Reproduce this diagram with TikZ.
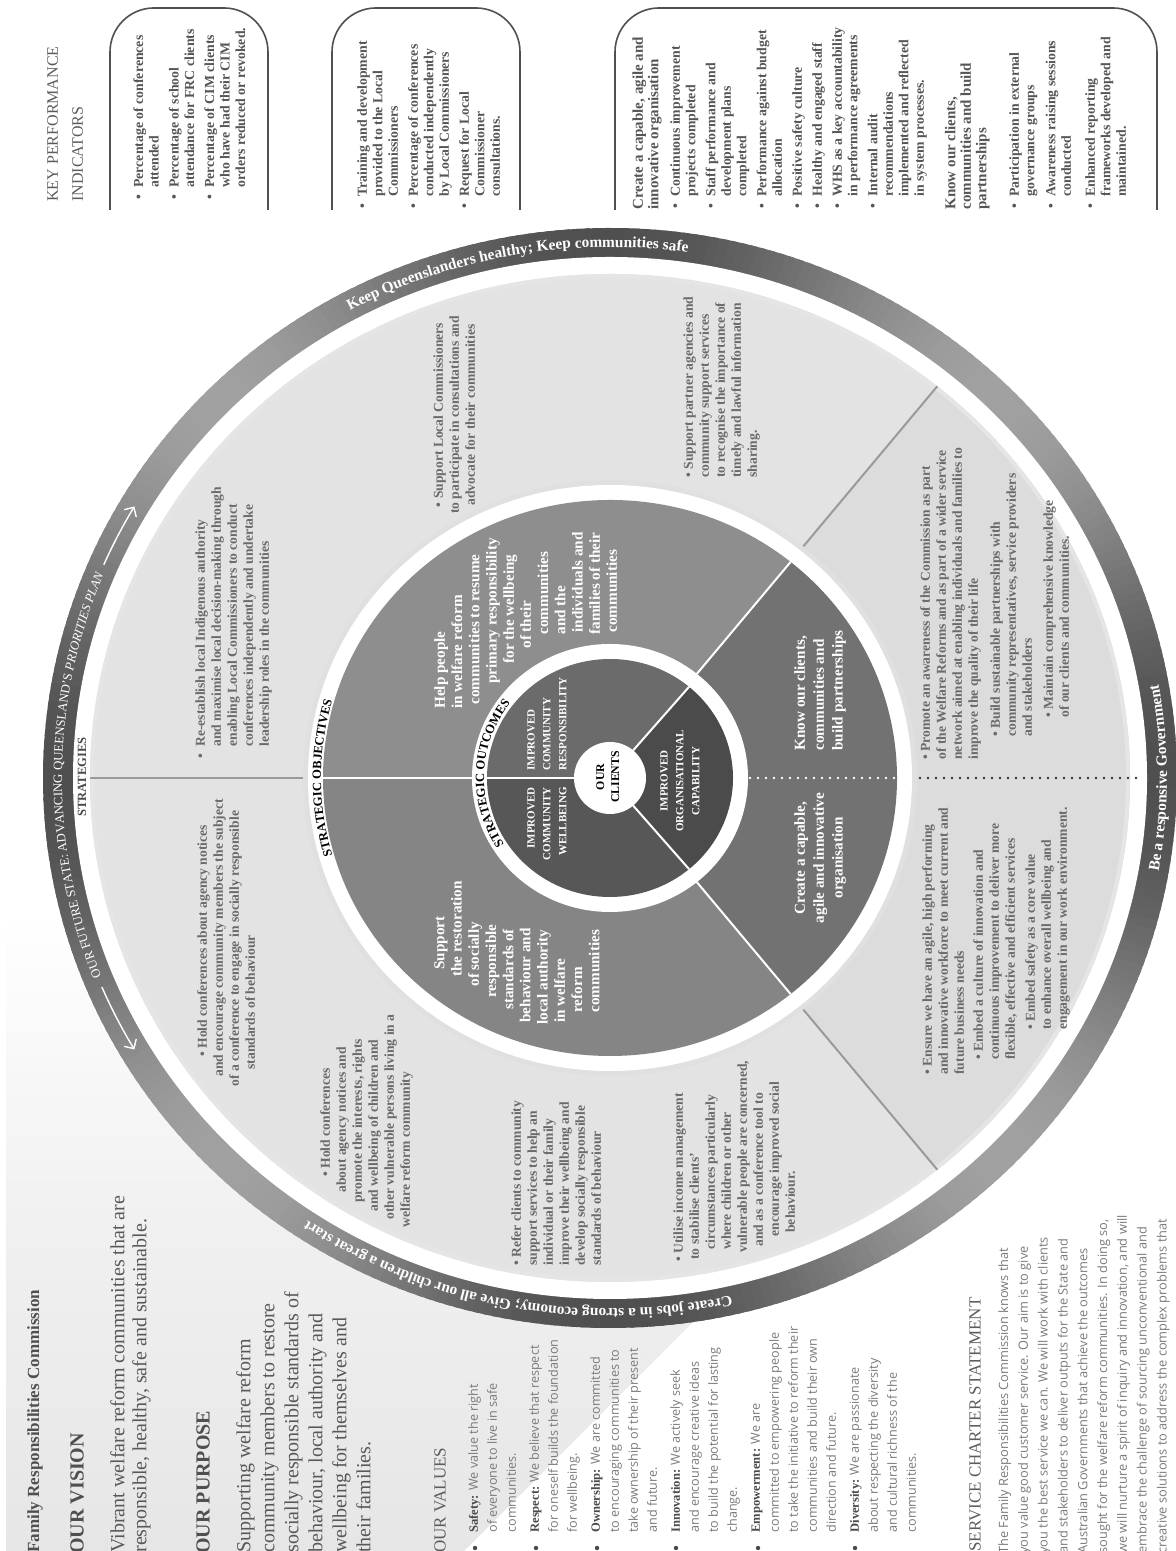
\documentclass[tikz,border=0pt]{standalone}
\usepackage{fontspec}
\setmainfont{Liberation Serif}
\newfontfamily\valfont{Open Sans}
\usetikzlibrary{positioning,decorations.text,arrows.meta}

\definecolor{diskgray}{HTML}{E3E3E3}
\definecolor{diskgrayR}{HTML}{DCDCDC}
\definecolor{objtop}{HTML}{8E8E8E}
\definecolor{objleft}{HTML}{858585}
\definecolor{objright}{HTML}{727272}
\definecolor{outtop}{HTML}{6B6B6B}
\definecolor{outleft}{HTML}{575757}
\definecolor{outright}{HTML}{4B4B4B}
\definecolor{divgray}{HTML}{9A9A9A}
\definecolor{bggray}{HTML}{E6E6E6}
\definecolor{headgray}{HTML}{4F4F4F}
\definecolor{bodygray}{HTML}{585858}
\definecolor{thingray}{HTML}{5C5C5C}
\definecolor{valgray}{HTML}{7A7A7A}
\definecolor{labgray}{HTML}{4A4A4A}
\definecolor{kpigray}{HTML}{555555}
\definecolor{stratgray}{HTML}{6A6A6A}
\definecolor{boxgray}{HTML}{505050}

\newcommand\hb{\llap{\textbullet\hspace{3.5pt}}}
\newcommand\off[1]{\hspace*{#1pt}}
\newcommand\lab[1]{{\rmfamily\bfseries\color{labgray}#1}}
\newcommand\kh[1]{\hspace*{-6.5pt}{\fontsize{7.5}{7.75}\selectfont #1}}
\newcommand\ringfont{\bfseries\fontsize{7.7}{9}\selectfont}
\newcommand\thinring{\fontsize{6.4}{8}\selectfont}
\newcommand\ringlbl{\bfseries\fontsize{6.3}{8}\selectfont}

\begin{document}
\begin{tikzpicture}[x=0.5pt, y=0.5pt,
  rtext/.style={rotate=90, inner sep=0pt, align=left},
  famhead/.style={rtext, font=\bfseries\fontsize{8.5}{9}\selectfont, text=headgray},
  bighead/.style={rtext, font=\bfseries\fontsize{10}{12}\selectfont, text=headgray},
  bigtext/.style={rtext, font=\fontsize{10}{11}\selectfont, text=bodygray},
  thinhead/.style={rtext, font=\fontsize{8.5}{12.5}\selectfont, text=thingray},
  valtext/.style={rtext, font=\valfont\fontsize{6.3}{9.5}\selectfont, text=valgray},
  kpitext/.style={rtext, font=\bfseries\fontsize{6.9}{7.75}\selectfont, text=kpigray},
  strat/.style={rtext, font=\bfseries\fontsize{6.8}{8}\selectfont, text=stratgray},
  objtext/.style={rtext, font=\bfseries\fontsize{7.6}{8.6}\selectfont, text=white},
  outtext/.style={rtext, font=\bfseries\fontsize{5.5}{7.9}\selectfont, text=white},
  kpibox/.style={draw=boxgray, line width=0.8, rounded corners=22},
  divline/.style={draw=divgray, line width=1},
  whiteline/.style={draw=white, line width=1},
  dotline/.style={line width=1.3, line cap=round, dash pattern=on 0pt off 4pt},
  ringarrow/.style={draw=white, line width=0.7, -{Straight Barb[length=3.5pt, width=7pt]}},
  ringtext/.style={decorate, decoration={text along path, text align=center, text color=white, text={#1}}}
]
\useasboundingbox (0,0) rectangle (1176,1551);
\coordinate (c) at (610,773);

% background behind the values
\shade[top color=white, bottom color=bggray, middle color=bggray!60] (6,0) -- (464,0) -- (1100,636) -- (6,636) -- cycle;

% outer ring, shaded light and dark by turns
\foreach \a in {0,1,...,359}{
  \pgfmathsetmacro\g{53+16*cos(4*\a)}
  \pgfmathsetmacro\e{\a+1.6}
  \fill[black!\g] (c) -- ++(\a:567 and 550) arc[start angle=\a, end angle=\e, x radius=567, y radius=550] -- cycle;
}
\fill[white] (c) ellipse[x radius=537, y radius=521];
\fill[diskgray] (c) ellipse[x radius=520, y radius=504];
\fill[diskgrayR] (c) -- ++(-51:520 and 504) arc[start angle=-51, end angle=51, x radius=520, y radius=504] -- cycle;
\draw[black!10, line width=2] (c) ellipse[x radius=518, y radius=502];
\foreach \a in {180,51,-51}
  \draw[divline, shift={(c)}] (\a:302 and 293) -- (\a:520 and 504);
\fill[black!12] (c) ellipse[x radius=307, y radius=298];
\fill[white] (c) ellipse[x radius=302, y radius=293];
\foreach \a/\b/\col in {51/180/objtop, 180/309/objleft, -51/51/objright}
  \fill[\col] (c) -- ++(\a:287 and 278) arc[start angle=\a, end angle=\b, x radius=287, y radius=278] -- cycle;
\foreach \a in {180,51,-51}
  \draw[whiteline, shift={(c)}] (\a:138 and 134) -- (\a:287 and 278);
\fill[white] (c) ellipse[x radius=138, y radius=134];
\foreach \a/\b/\col in {50/180/outtop, 180/310/outleft, -50/50/outright}
  \fill[\col] (c) -- ++(\a:123 and 119) arc[start angle=\a, end angle=\b, x radius=123, y radius=119] -- cycle;
\foreach \a in {180,50,-50}
  \draw[whiteline, shift={(c)}] (\a:36 and 36) -- (\a:123 and 119);
\fill[white] (c) circle[radius=36];
\draw[dotline, white] ([xshift=70]c) -- ([xshift=143]c);
\draw[dotline, black!80] ([xshift=155]c) -- ([xshift=266]c);

% texts on the rings
\path[ringtext={|\ringfont|Keep Queenslanders healthy; Keep communities safe}]
  (c) ++(150.25:547 and 531) arc[start angle=150.25, end angle=50.25, x radius=547, y radius=531];
\path[ringtext={|\ringfont|Create jobs in a strong economy; Give all our children a great start}]
  (c) ++(309.5:547 and 531) arc[start angle=309.5, end angle=209.5, x radius=547, y radius=531];
\path[ringtext={|\thinring|OUR FUTURE STATE: ADVANCING QUEENSLAND’S |\thinring\itshape|PRIORITIES PLAN}]
  (c) ++(229.7:548 and 532) arc[start angle=229.7, end angle=129.7, x radius=548, y radius=532];
\path[ringtext={|\ringfont|Be a responsive Government}]
  (c) ++(-30:557 and 540) arc[start angle=-30, end angle=30, x radius=557, y radius=540];
\draw[ringarrow] (c) ++(203:552 and 535) arc[start angle=203, end angle=210.5, x radius=552, y radius=535];
\draw[ringarrow] (c) ++(156.5:552 and 535) arc[start angle=156.5, end angle=149.5, x radius=552, y radius=535];
\path[decorate, decoration={text along path, text align=center, text={|\ringlbl|STRATEGIC OBJECTIVES}}]
  (c) ++(210:289 and 280) arc[start angle=210, end angle=150, x radius=289, y radius=280];
\path[decorate, decoration={text along path, text align=center, text={|\ringlbl|STRATEGIC OUTCOMES}}]
  (c) ++(232.5:126 and 122) arc[start angle=232.5, end angle=122.5, x radius=126, y radius=122];
\node[rotate=90, font=\ringlbl, text=labgray] (strat_lbl) at (82,774) {STRATEGIES};

% centre
\node[rtext, align=center, anchor=north, font=\bfseries\fontsize{5.9}{7.5}\selectfont] (clients) at (596,774) {OUR\\CLIENTS};
\node[outtext, anchor=north west] (out_resp) at (527,780) {IMPROVED\\COMMUNITY\\RESPONSIBILITY};
\node[outtext, align=right, anchor=north east] (out_well) at (527,764) {IMPROVED\\COMMUNITY\\WELLBEING};
\node[outtext, align=center, anchor=north] (out_org) at (660,770) {IMPROVED\\ORGANISATIONAL\\CAPABILITY};

% strategic objectives
\node[objtext, anchor=north west] (obj_help) at (434,842) {Help people\\in welfare reform\\\off{2}communities to resume\\\off{12.5}primary responsibility\\\off{22.5}for the wellbeing\\\off{30}of their\\\off{37}communities\\\off{37}and the\\\off{38}individuals and\\\off{37}families of their\\\off{38}communities};
\node[objtext, anchor=north west] (obj_supp) at (434,526) {\off{27.5}Support\\\off{24}the restoration\\\off{19}of socially\\\off{13.5}responsible\\\off{7.5}standards of\\\off{1}behaviour and\\local authority\\\off{1}in welfare\\\off{6}reform\\\off{6}communities};
\node[objtext, font=\bfseries\fontsize{7.6}{9.4}\selectfont, anchor=north west] (obj_know) at (794,800) {Know our clients,\\communities and\\build partnerships};
\node[objtext, font=\bfseries\fontsize{7.6}{9.4}\selectfont, align=center, anchor=north] (obj_cap) at (794,693) {Create a capable,\\agile and innovative\\organisation};

% strategies
\node[strat, anchor=north west] (st_auth) at (195,804) {\hb Re-establish local Indigenous authority\\and maximise local decision-making through\\enabling Local Commissioners to conduct\\conferences independently and undertake\\leadership roles in the communities};
\node[strat, align=center, anchor=north] (st_lc) at (433,1136) {\textbullet\ Support Local Commissioners\\to participate in consultations and\\advocate for their communities};
\node[strat, anchor=north west] (st_info) at (683,1073) {\textbullet\ Support partner agencies and\\community support services\\to recognise the importance of\\timely and lawful information\\sharing.};
\node[strat, anchor=north west] (st_conf) at (197,464) {\off{15}\textbullet\ Hold conferences about agency notices\\\off{5}and encourage community members the subject\\of a conference to engage in socially responsible\\\off{8.5}standards of behaviour};
\node[strat, anchor=north west] (st_child) at (320,323) {\off{25.5}\textbullet\ Hold conferences\\\off{17.5}about agency notices and\\\off{12.5}promote the interests, rights\\\off{8}and wellbeing of children and\\\off{4}other vulnerable persons living in a\\welfare reform community};
\node[strat, anchor=north west] (st_refer) at (511,285) {\textbullet\ Refer clients to community\\support services to help an\\individual or their family\\improve their wellbeing and\\develop socially responsible\\standards of behaviour};
\node[strat, anchor=north west] (st_income) at (673,289) {\textbullet\ Utilise income management\\\off{1}to stabilise clients’\\\off{6}circumstances particularly\\\off{6}where children or other\\\off{4.5}vulnerable people are concerned,\\\off{7.5}and as a conference tool to\\\off{12.5}encourage improved social\\\off{14.5}behaviour.};
\node[strat, anchor=north west] (st_aware) at (920,791) {\textbullet\ Promote an awareness of the Commission as part\\of the Welfare Reforms and as part of a wider service\\network aimed at enabling individuals and families to\\improve the quality of their life};
\node[strat, anchor=north west] (st_build) at (990,814) {\textbullet\ Build sustainable partnerships with\\community representatives, service providers\\and stakeholders};
\node[strat, anchor=north west] (st_know) at (1043,833) {\textbullet\ Maintain comprehensive knowledge\\of our clients and communities.};
\node[strat, anchor=north west] (st_agile) at (922,476) {\textbullet\ Ensure we have an agile, high performing\\and innovative workforce to meet current and\\future business needs};
\node[strat, anchor=north west] (st_cult) at (973,491) {\textbullet\ Embed a culture of innovation and\\continuous improvement to deliver more\\flexible, effective and efficient services};
\node[strat, anchor=north west] (st_safe) at (1025,521) {\textbullet\ Embed safety as a core value\\to enhance overall wellbeing and\\engagement in our work environment.};

% left column
\node[famhead, anchor=north west] (frc) at (27,-2) {Family Responsibilities Commission};
\node[bighead, anchor=north west] (vis_h) at (70,-3) {OUR VISION};
\node[bigtext, anchor=north west] (vis_t) at (110,-2) {Vibrant welfare reform communities that are\\responsible, healthy, safe and sustainable.};
\node[bighead, anchor=north west] (pur_h) at (196,-3) {OUR PURPOSE};
\node[bigtext, font=\fontsize{10}{12}\selectfont, anchor=north west] (pur_t) at (236,-2) {Supporting welfare reform\\community members to restore\\socially responsible standards of\\behaviour, local authority and\\wellbeing for themselves and\\their families.};
\node[thinhead, anchor=north west] (val_h) at (434,-2) {OUR VALUES};
\node[valtext, anchor=north west] (val_t) at (468,18) {\lab{Safety:} We value the right\\of everyone to live in safe\\communities.\\[2pt]
\lab{Respect:} We believe that respect\\for oneself builds the foundation\\for wellbeing.\\[2pt]
\lab{Ownership:} We are committed\\to encouraging communities to\\take ownership of their present\\and future.\\[2pt]
\lab{Innovation:} We actively seek\\and encourage creative ideas\\to build the potential for lasting\\change.\\[2pt]
\lab{Empowerment:} We are\\committed to empowering people\\to take the initiative to reform their\\communities and build their own\\direction and future.\\[2pt]
\lab{Diversity:} We are passionate\\about respecting the diversity\\and cultural richness of the\\communities.};
\foreach \x in {475,536,597,676,758,855}
  \fill[labgray] (\x,3) circle[radius=2.2];
\node[thinhead, anchor=north west] (ser_h) at (969,-1) {SERVICE CHARTER STATEMENT};
\node[valtext, font=\valfont\fontsize{6.4}{9.9}\selectfont, anchor=north west] (ser_t) at (998,-3) {The Family Responsibilities Commission knows that\\you value good customer service. Our aim is to give\\you the best service we can. We will work with clients\\and stakeholders to deliver outputs for the State and\\Australian Governments that achieve the outcomes\\sought for the welfare reform communities. In doing so,\\we will nurture a spirit of inquiry and innovation, and will\\embrace the challenge of sourcing unconventional and\\creative solutions to address the complex problems that\\effect our communities.};

% key performance indicators
\node[thinhead, font=\fontsize{8}{12.5}\selectfont, anchor=north west] (kpi_h) at (47,1349) {KEY PERFORMANCE\\INDICATORS};
\draw[kpibox] (110,1341) -- (110,1543) -- (268,1543) -- (268,1341);
\draw[kpibox] (332,1341) -- (332,1543) -- (520,1543) -- (520,1341);
\draw[kpibox] (615,1341) -- (615,1543) -- (1157,1543) -- (1157,1341);
\node[kpitext, anchor=north west] (kpi_conf) at (133,1363) {\hb Percentage of conferences\\attended\\[2.25pt]\hb Percentage of school\\attendance for FRC clients\\[2.25pt]\hb Percentage of CIM clients\\who have had their CIM\\orders reduced or revoked.};
\node[kpitext, anchor=north west] (kpi_lc) at (357,1354) {\hb Training and development\\provided to the Local\\Commissioners\\[2.25pt]\hb Percentage of conferences\\conducted independently\\by Local Commissioners\\[2.25pt]\hb Request for Local\\Commissioner\\consultations.};
\node[kpitext, anchor=north west] (kpi_org) at (632,1354) {\kh{Create a capable, agile and}\\\kh{innovative organisation}\\[3pt]\hb Continuous improvement\\projects completed\\[2.25pt]\hb Staff performance and\\development plans\\completed\\[2.25pt]\hb Performance against budget\\allocation\\[2.25pt]\hb Positive safety culture\\[2.25pt]\hb Healthy and engaged staff\\[2.25pt]\hb WHS as a key accountability\\in performance agreements\\[2.25pt]\hb Internal audit\\recommendations\\implemented and reflected\\in system processes.\\[8pt]\kh{Know our clients,}\\\kh{communities and build}\\\kh{partnerships}\\[8.5pt]\hb Participation in external\\governance groups\\[2.75pt]\hb Awareness raising sessions\\conducted\\[4.25pt]\hb Enhanced reporting\\frameworks developed and\\maintained.};
\end{tikzpicture}
\end{document}
